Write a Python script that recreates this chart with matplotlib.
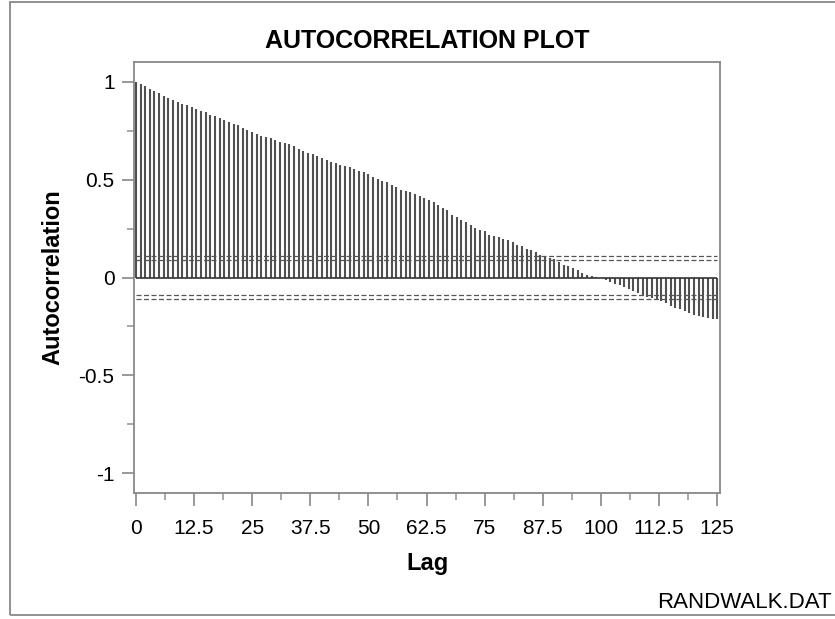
import matplotlib
matplotlib.use("Agg")
import matplotlib.pyplot as plt
from matplotlib.patches import Rectangle
import numpy as np

plt.rcParams['font.family'] = ['Liberation Sans', 'DejaVu Sans']

# autocorrelation of RANDWALK.DAT, lags 0..125
acf = [
    1.000, 0.988, 0.975, 0.964, 0.950, 0.940, 0.925, 0.918, 0.908, 0.898,
    0.885, 0.878, 0.868, 0.858, 0.852, 0.846, 0.832, 0.822, 0.812, 0.802,
    0.794, 0.786, 0.776, 0.765, 0.752, 0.742, 0.732, 0.724, 0.718, 0.712,
    0.704, 0.694, 0.688, 0.682, 0.672, 0.658, 0.648, 0.638, 0.628, 0.622,
    0.612, 0.600, 0.590, 0.582, 0.576, 0.570, 0.566, 0.556, 0.546, 0.536,
    0.526, 0.515, 0.505, 0.494, 0.486, 0.474, 0.464, 0.449, 0.439, 0.434,
    0.425, 0.418, 0.408, 0.394, 0.384, 0.372, 0.357, 0.343, 0.320, 0.307,
    0.296, 0.282, 0.270, 0.255, 0.245, 0.236, 0.219, 0.214, 0.206, 0.199,
    0.189, 0.179, 0.168, 0.160, 0.148, 0.138, 0.128, 0.117, 0.110, 0.100,
    0.092, 0.078, 0.066, 0.058, 0.048, 0.036, 0.025, 0.015, 0.007, 0.003,
    -0.005, -0.014, -0.024, -0.031, -0.040, -0.050, -0.061, -0.070, -0.080, -0.090,
    -0.098, -0.104, -0.110, -0.120, -0.132, -0.144, -0.155, -0.163, -0.172, -0.180,
    -0.189, -0.196, -0.200, -0.206, -0.210, -0.214,
]
lags = np.arange(len(acf))

# confidence bands (two dashed lines each side)
band_inner = 0.088
band_outer = 0.110

xticks = [0, 12.5, 25, 37.5, 50, 62.5, 75, 87.5, 100, 112.5, 125]
xticklabels = ["0", "12.5", "25", "37.5", "50", "62.5", "75", "87.5", "100", "112.5", "125"]
yticks = [-1, -0.5, 0, 0.5, 1]
yticklabels = ["-1", "-0.5", "0", "0.5", "1"]

fig = plt.figure(figsize=(8.35, 6.19), dpi=100)
ax = fig.add_axes([134/835, 1 - 493/619, 586/835, 431/619])

ax.vlines(lags, 0, acf, color='#505050', linewidth=1.5)
ax.hlines(0, lags[0], lags[-1], color='#333333', linewidth=1.2)
for b in (band_inner, band_outer, -band_inner, -band_outer):
    ax.hlines(b, lags[0], lags[-1], color='#555555', linewidth=0.9,
              linestyles=(0, (4, 2)))

ax.set_xlim(-0.4, 125.6)
ax.set_ylim(-1.1, 1.1)

ax.set_xticks(xticks)
ax.set_xticklabels(xticklabels)
ax.set_xticks([x + 6.25 for x in xticks[:-1]], minor=True)
ax.set_yticks(yticks)
ax.set_yticklabels(yticklabels)
ax.set_yticks([-0.75, -0.25, 0.25, 0.75], minor=True)

ax.tick_params(axis='both', which='major', length=9, width=1.4, color='#999999',
               labelsize=15, labelcolor='black')
ax.tick_params(axis='x', which='major', pad=10)
ax.tick_params(axis='y', which='major', pad=5)
ax.tick_params(axis='both', which='minor', length=5, width=1.2, color='#999999')

for s in ax.spines.values():
    s.set_color('#888888')
    s.set_linewidth(1.3)

ax.set_xlabel("Lag", fontsize=17, fontweight='bold')
ax.xaxis.set_label_coords(0.5, -0.137)
ax.set_ylabel("Autocorrelation", fontsize=17, fontweight='bold')
ax.yaxis.set_label_coords(-0.118, 0.5)

fig.text(427/835, 1 - 41/619, "AUTOCORRELATION PLOT", fontsize=18,
         fontweight='bold', ha='center', va='center')
fig.text(657/835, 1 - 603/619, "RANDWALK.DAT", fontsize=16,
         ha='left', va='center')

# outer frame of the page (runs off the right edge)
fig.patches.append(Rectangle((10/835, 4/619), 1.0, 613/619, transform=fig.transFigure,
                             fill=False, edgecolor='#888888', linewidth=1.3))

fig.savefig("out.png", dpi=100)
